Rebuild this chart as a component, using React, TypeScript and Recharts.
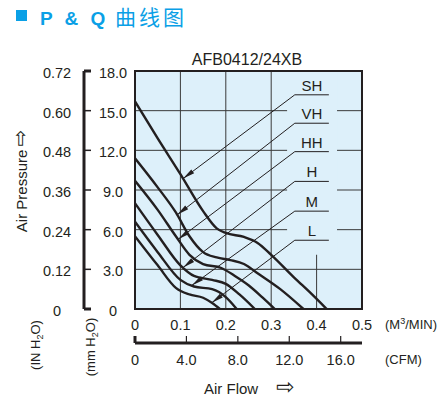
import { LineChart, Line, XAxis, YAxis, CartesianGrid, ReferenceArea, ReferenceLine } from "recharts"

// P & Q curves for AFB0412/24XB, flow in m3/min, static pressure in mmH2O
const curveNames = ["SH", "VH", "HH", "H", "M", "L"]

const shFlow = [0, 0.05, 0.1, 0.15, 0.18, 0.2, 0.24, 0.27, 0.3, 0.35, 0.39, 0.422]
const shPressure = [15.7, 12.9, 10.2, 7.4, 6.1, 5.75, 5.45, 5.0, 4.1, 2.4, 1.1, 0]
const vhFlow = [0, 0.05, 0.09, 0.12, 0.15, 0.18, 0.21, 0.24, 0.27, 0.32, 0.371]
const vhPressure = [11.4, 9.2, 7.3, 5.5, 4.3, 3.9, 3.7, 3.4, 2.7, 1.5, 0]
const hhFlow = [0, 0.05, 0.09, 0.12, 0.15, 0.19, 0.22, 0.25, 0.28, 0.308]
const hhPressure = [9.7, 7.5, 5.5, 4.1, 3.4, 3.1, 2.5, 1.8, 0.9, 0]
const hFlow = [0, 0.05, 0.1, 0.13, 0.17, 0.2, 0.23, 0.264]
const hPressure = [8.0, 5.6, 3.3, 2.5, 2.2, 1.9, 1.1, 0]
const mFlow = [0, 0.05, 0.1, 0.13, 0.17, 0.2, 0.224]
const mPressure = [6.6, 4.3, 2.2, 1.7, 1.5, 0.9, 0]
const lFlow = [0, 0.05, 0.09, 0.12, 0.15, 0.17, 0.187]
const lPressure = [5.5, 3.3, 1.6, 1.1, 0.85, 0.45, 0]

// where each label's leader arrow touches its curve, and label rows
const arrowFlow = [0.106, 0.093, 0.095, 0.106, 0.125, 0.169]
const labelLevels = [16.2, 14.05, 11.9, 9.65, 7.4, 5.2]
const labelFlowStart = 0.352
const labelFlowEnd = 0.427

const flowTicks = [0, 0.1, 0.2, 0.3, 0.4, 0.5]
const cfmTicks = [0, 4, 8, 12, 16]
const mmTicks = [0, 3, 6, 9, 12, 15, 18]
const inchTicks = [0, 0.12, 0.24, 0.36, 0.48, 0.6, 0.72]

const CFM_PER_M3MIN = 35.315

const ink = "#231f20"
const blue = "#0aa0e6"
const font = "'Liberation Sans', Arial, sans-serif"

const curves = [
  [shFlow, shPressure],
  [vhFlow, vhPressure],
  [hhFlow, hhPressure],
  [hFlow, hPressure],
  [mFlow, mPressure],
  [lFlow, lPressure],
].map(([fs, ps]) => fs.map((f, i) => ({ f, p: ps[i] })))

function pressureAt(points: { f: number; p: number }[], f: number) {
  for (let i = 1; i < points.length; i++) {
    const a = points[i - 1]
    const b = points[i]
    if (f <= b.f) return a.p + ((f - a.f) / (b.f - a.f)) * (b.p - a.p)
  }
  return points[points.length - 1].p
}

const fmt1 = (v: number) => (v === 0 ? "0" : v.toFixed(1))
const fmt2 = (v: number) => (v === 0 ? "0" : v.toFixed(2))

function InchTick(props: any) {
  const { x, y, payload, index } = props
  const edge = index === 0 || index === inchTicks.length - 1
  return (
    <g>
      <line x1={x + 27} x2={x + 34} y1={y} y2={y} stroke={ink} strokeWidth={edge ? 3 : 1.5} />
      <text x={x} y={y + 7} textAnchor="middle" fontSize={14.5} fill={ink} fontFamily={font}>
        {fmt2(payload.value)}
      </text>
    </g>
  )
}

function MmTick(props: any) {
  const { x, y, payload } = props
  return (
    <text x={x} y={y + 7} textAnchor="middle" fontSize={14.5} fill={ink} fontFamily={font}>
      {fmt1(payload.value)}
    </text>
  )
}

function FlowTick(props: any) {
  const { x, y, payload } = props
  return (
    <text x={x} y={y + 21} textAnchor="middle" fontSize={14.5} fill={ink} fontFamily={font}>
      {fmt1(payload.value)}
    </text>
  )
}

function CfmTick(props: any) {
  const { x, y, payload, index } = props
  return (
    <g>
      <line x1={x} x2={x} y1={y} y2={y - 7} stroke={ink} strokeWidth={index === 0 ? 3 : 1.2} />
      <text x={x} y={y + 22} textAnchor="middle" fontSize={14.5} fill={ink} fontFamily={font}>
        {fmt1(payload.value)}
      </text>
    </g>
  )
}

function Leader(props: any) {
  const { x1, y1, x2, y2 } = props
  const ang = Math.atan2(y2 - y1, x2 - x1)
  const len = 12
  const half = 2.4
  const bx = x2 - len * Math.cos(ang)
  const by = y2 - len * Math.sin(ang)
  const px = -Math.sin(ang) * half
  const py = Math.cos(ang) * half
  return (
    <g>
      <line x1={x1} y1={y1} x2={x2} y2={y2} stroke={ink} strokeWidth={1} />
      <polygon points={`${x2},${y2} ${bx + px},${by + py} ${bx - px},${by - py}`} fill={ink} />
    </g>
  )
}

export default function App() {
  return (
    <div style={{ position: "absolute", left: 0, top: 0, width: 447, height: 398, background: "#fff" }}>
      <LineChart width={447} height={398} margin={{ top: 71, right: 85, bottom: 25, left: 8 }}>
        <XAxis
          xAxisId="b_cfm"
          type="number"
          dataKey="f"
          domain={[0, 0.5 * CFM_PER_M3MIN]}
          ticks={cfmTicks}
          interval={0}
          allowDataOverflow
          axisLine={{ stroke: ink, strokeWidth: 3 }}
          tickLine={false}
          tickSize={0}
          tickMargin={0}
          height={30}
          tick={<CfmTick />}
        />
        <XAxis
          xAxisId="a_flow"
          type="number"
          dataKey="f"
          domain={[0, 0.5]}
          ticks={flowTicks}
          interval={0}
          allowDataOverflow
          axisLine={false}
          tickLine={false}
          tickSize={0}
          tickMargin={0}
          height={34}
          tick={<FlowTick />}
        />
        <YAxis
          yAxisId="b_inch"
          type="number"
          domain={[0, 0.72]}
          ticks={inchTicks}
          interval={0}
          allowDataOverflow
          axisLine={{ stroke: ink, strokeWidth: 3 }}
          tickLine={false}
          tickSize={0}
          tickMargin={27}
          width={76}
          tick={<InchTick />}
        />
        <YAxis
          yAxisId="a_mm"
          type="number"
          domain={[0, 18]}
          ticks={mmTicks}
          interval={0}
          allowDataOverflow
          axisLine={false}
          tickLine={false}
          tickSize={0}
          tickMargin={22}
          width={51}
          tick={<MmTick />}
        />
        <CartesianGrid
          xAxisId="a_flow"
          yAxisId="a_mm"
          fill="#ddf0fa"
          fillOpacity={1}
          stroke="#3a3a3a"
          strokeWidth={1}
        />
        <ReferenceArea
          xAxisId="a_flow"
          yAxisId="a_mm"
          x1={0.335}
          x2={0.445}
          y1={4.1}
          y2={18}
          fill="#ddf0fa"
          fillOpacity={1}
          stroke="none"
        />
        {curves.map((pts, i) => (
          <Line
            key={curveNames[i]}
            xAxisId="a_flow"
            yAxisId="a_mm"
            data={pts}
            dataKey="p"
            type="monotone"
            dot={false}
            stroke={ink}
            strokeWidth={2.4}
            isAnimationActive={false}
          />
        ))}
        {curveNames.map((name, i) => (
          <ReferenceLine
            key={"u" + name}
            xAxisId="a_flow"
            yAxisId="a_mm"
            segment={[
              { x: labelFlowStart, y: labelLevels[i] },
              { x: labelFlowEnd, y: labelLevels[i] },
            ]}
            stroke={ink}
            strokeWidth={1}
            label={{ value: name, position: "top", offset: 4, fill: ink, fontSize: 15, fontFamily: font }}
          />
        ))}
        {curveNames.map((name, i) => (
          <ReferenceLine
            key={"a" + name}
            xAxisId="a_flow"
            yAxisId="a_mm"
            segment={[
              { x: labelFlowStart, y: labelLevels[i] },
              { x: arrowFlow[i], y: pressureAt(curves[i], arrowFlow[i]) },
            ]}
            shape={<Leader />}
          />
        ))}
        <ReferenceArea
          xAxisId="a_flow"
          yAxisId="a_mm"
          x1={0}
          x2={0.5}
          y1={0}
          y2={18}
          fill="none"
          stroke={ink}
          strokeWidth={2}
        />
      </LineChart>
      <svg
        width={447}
        height={398}
        style={{ position: "absolute", left: 0, top: 0, pointerEvents: "none" }}
        fontFamily={font}
        fill={ink}
      >
        <rect x={16} y={10} width={11} height={11} fill={blue} />
        <text x={40} y={25} fill={blue}>
          <tspan fontSize={19} fontWeight="bold" letterSpacing={3.5}>P &amp; Q</tspan>
          <tspan dx={6} fontSize={21} letterSpacing={3} fontFamily="'Noto Sans CJK SC', sans-serif">曲线图</tspan>
        </text>
        <text x={247} y={65} fontSize={16} textAnchor="middle">
          AFB0412/24XB
        </text>
        <text transform="translate(27,181) rotate(-90)" fontSize={15} textAnchor="middle">
          Air Pressure
          <tspan fontFamily="'DejaVu Sans'" fontSize={20} dx={3}>⇨</tspan>
        </text>
        <text transform="translate(40,345) rotate(-90)" fontSize={13} textAnchor="middle">
          (IN H<tspan fontSize={9} dy={3}>2</tspan>
          <tspan dy={-3}>O)</tspan>
        </text>
        <text transform="translate(95,347) rotate(-90)" fontSize={13} textAnchor="middle">
          (mm H<tspan fontSize={9} dy={3}>2</tspan>
          <tspan dy={-3}>O)</tspan>
        </text>
        <text x={385} y={329} fontSize={13}>
          (M<tspan fontSize={9} dy={-5}>3</tspan>
          <tspan dy={5}>/MIN)</tspan>
        </text>
        <text x={385} y={364} fontSize={13}>
          (CFM)
        </text>
        <text x={204} y={394} fontSize={15}>
          Air Flow
        </text>
        <text x={276} y={394} fontSize={22} fontFamily="'DejaVu Sans'">
          ⇨
        </text>
      </svg>
    </div>
  )
}
